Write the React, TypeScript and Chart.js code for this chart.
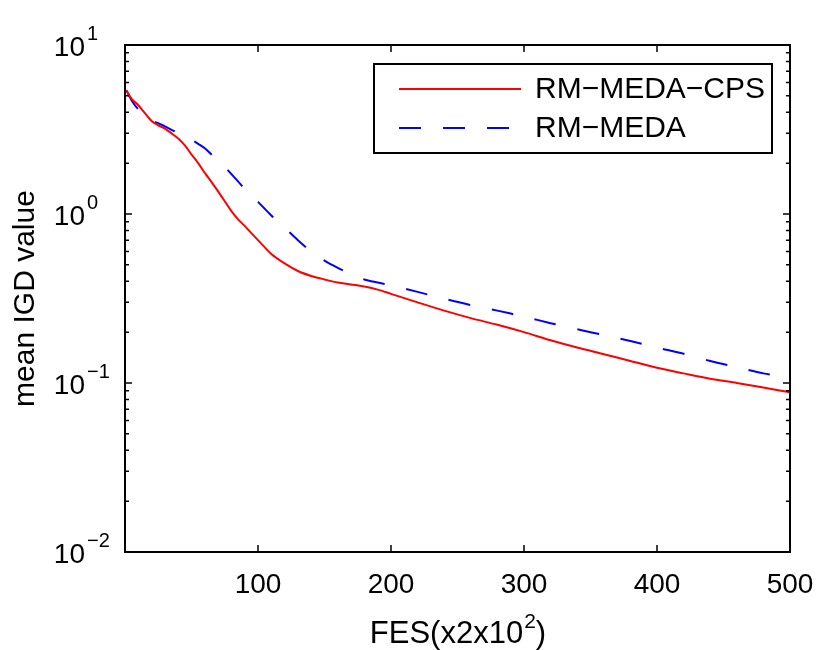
import React, { useEffect, useRef } from "react";
import { Chart, registerables } from "chart.js";

Chart.register(...registerables);

const FONT = '"Liberation Sans", Arial, Helvetica, sans-serif';

// FES (x2x10^2) sample positions
const fes = [
  1, 5, 10, 15, 20, 25, 30, 35, 40, 45, 50, 55, 60, 65, 70, 75, 80, 85, 90, 95,
  100, 110, 120, 130, 140, 150, 160, 170, 180, 190, 200, 220, 240, 260, 280,
  300, 320, 340, 360, 380, 400, 420, 440, 460, 480, 500,
];

const cpsValues = [
  5.4, 4.8, 4.4, 3.95, 3.55, 3.35, 3.2, 3.0, 2.8, 2.55, 2.25, 2.0, 1.75, 1.55,
  1.36, 1.19, 1.04, 0.93, 0.85, 0.77, 0.7, 0.58, 0.51, 0.46, 0.43, 0.41, 0.393,
  0.383, 0.372, 0.357, 0.337, 0.3, 0.268, 0.242, 0.221, 0.2, 0.179, 0.162,
  0.148, 0.135, 0.123, 0.114, 0.106, 0.1, 0.094, 0.088,
];

const medaValues = [
  5.4, 4.7, 4.15, 3.75, 3.55, 3.45, 3.3, 3.15, 3.0, 2.85, 2.75, 2.6, 2.45, 2.25,
  2.05, 1.9, 1.72, 1.56, 1.41, 1.29, 1.18, 0.98, 0.83, 0.7, 0.6, 0.53, 0.48,
  0.44, 0.41, 0.393, 0.378, 0.346, 0.315, 0.289, 0.268, 0.247, 0.226, 0.208,
  0.192, 0.177, 0.162, 0.149, 0.135, 0.124, 0.114, 0.107,
];

const seriesNames = ["RM\u2212MEDA\u2212CPS", "RM\u2212MEDA"];
const xTicks = [100, 200, 300, 400, 500];
const yExponents = [-2, -1, 0, 1];

const matlabAxes = {
  id: "matlabAxes",
  afterDraw(chart: any) {
    const { ctx, chartArea, scales } = chart;
    const { left, right, top, bottom } = chartArea;
    const xs = scales.x;
    const ys = scales.y;
    ctx.save();
    ctx.fillStyle = "#000";
    ctx.strokeStyle = "#000";

    // box
    ctx.lineWidth = 2;
    ctx.strokeRect(left, top, right - left, bottom - top);

    // x ticks (inward, bottom and top)
    ctx.lineWidth = 1.5;
    ctx.beginPath();
    xTicks.forEach((v) => {
      const px = xs.getPixelForValue(v);
      ctx.moveTo(px, bottom);
      ctx.lineTo(px, bottom - 7);
      ctx.moveTo(px, top);
      ctx.lineTo(px, top + 7);
    });
    // y ticks, major + minor
    yExponents.forEach((e) => {
      const py = ys.getPixelForValue(Math.pow(10, e));
      ctx.moveTo(left, py);
      ctx.lineTo(left + 7, py);
      ctx.moveTo(right, py);
      ctx.lineTo(right - 7, py);
      if (e < 1) {
        for (let m = 2; m <= 9; m++) {
          const pm = ys.getPixelForValue(m * Math.pow(10, e));
          ctx.moveTo(left, pm);
          ctx.lineTo(left + 4, pm);
          ctx.moveTo(right, pm);
          ctx.lineTo(right - 4, pm);
        }
      }
    });
    ctx.stroke();

    // x tick labels
    ctx.font = `28px ${FONT}`;
    ctx.textAlign = "center";
    ctx.textBaseline = "alphabetic";
    xTicks.forEach((v) => {
      ctx.fillText(String(v), xs.getPixelForValue(v), bottom + 41);
    });

    // y tick labels 10^e
    yExponents.forEach((e) => {
      const py = ys.getPixelForValue(Math.pow(10, e));
      ctx.font = `28px ${FONT}`;
      ctx.textAlign = "right";
      ctx.fillText("10", left - 40, py + 11);
      ctx.font = `20px ${FONT}`;
      ctx.textAlign = "left";
      ctx.fillText(e < 0 ? "\u2212" + -e : String(e), left - 38, py - 5);
    });

    // x title
    const cx = (left + right) / 2;
    ctx.font = `31px ${FONT}`;
    const t1 = "FES(x2x10";
    const w1 = ctx.measureText(t1).width;
    const w3 = ctx.measureText(")").width;
    ctx.font = `21px ${FONT}`;
    const w2 = ctx.measureText("2").width;
    let sx = cx - (w1 + w2 + w3) / 2;
    ctx.textAlign = "left";
    ctx.font = `31px ${FONT}`;
    ctx.fillText(t1, sx, bottom + 91);
    ctx.font = `21px ${FONT}`;
    ctx.fillText("2", sx + w1 + 1, bottom + 76);
    ctx.font = `31px ${FONT}`;
    ctx.fillText(")", sx + w1 + w2 + 1, bottom + 91);

    // y title
    ctx.save();
    ctx.translate(34, (top + bottom) / 2);
    ctx.rotate(-Math.PI / 2);
    ctx.textAlign = "center";
    ctx.font = `30px ${FONT}`;
    ctx.fillText("mean IGD value", 0, 0);
    ctx.restore();

    // legend box
    const lx = left + 249;
    const ly = top + 19;
    const lw = 398;
    const lh = 89;
    ctx.fillStyle = "#fff";
    ctx.fillRect(lx, ly, lw, lh);
    ctx.lineWidth = 2;
    ctx.strokeStyle = "#000";
    ctx.strokeRect(lx, ly, lw, lh);
    chart.data.datasets.forEach((ds: any, i: number) => {
      const rowY = ly + 25 + i * 39;
      ctx.strokeStyle = ds.borderColor;
      ctx.lineWidth = ds.borderWidth;
      ctx.setLineDash(ds.borderDash || []);
      ctx.beginPath();
      ctx.moveTo(lx + 25, rowY);
      ctx.lineTo(lx + 147, rowY);
      ctx.stroke();
      ctx.setLineDash([]);
      ctx.fillStyle = "#000";
      ctx.font = `30px ${FONT}`;
      ctx.textAlign = "left";
      ctx.textBaseline = "middle";
      ctx.fillText(ds.label, lx + 161, rowY + 1);
    });
    ctx.restore();
  },
};

export default function App() {
  const canvasRef = useRef<HTMLCanvasElement | null>(null);
  const chartRef = useRef<Chart | null>(null);

  useEffect(() => {
    const ctx = canvasRef.current?.getContext("2d");
    if (!ctx) return;
    if (chartRef.current) chartRef.current.destroy();

    chartRef.current = new Chart(ctx, {
      type: "line",
      data: {
        datasets: [
          {
            label: seriesNames[0],
            data: fes.map((x, i) => ({ x, y: cpsValues[i] })),
            borderColor: "#ff0000",
            borderWidth: 2,
            pointRadius: 0,
            tension: 0.3,
          },
          {
            label: seriesNames[1],
            data: fes.map((x, i) => ({ x, y: medaValues[i] })),
            borderColor: "#0000ff",
            borderWidth: 2,
            borderDash: [22, 22],
            pointRadius: 0,
            tension: 0.3,
          },
        ],
      },
      options: {
        animation: false,
        responsive: true,
        maintainAspectRatio: false,
        layout: { padding: { left: 125, top: 45, right: 40, bottom: 98 } },
        plugins: {
          legend: { display: false },
          tooltip: { enabled: false },
        },
        scales: {
          x: { type: "linear", min: 0, max: 500, display: false },
          y: { type: "logarithmic", min: 0.01, max: 10, display: false },
        },
      },
      plugins: [matlabAxes],
    });

    return () => {
      if (chartRef.current) {
        chartRef.current.destroy();
        chartRef.current = null;
      }
    };
  }, []);

  return (
    <div
      style={{
        position: "absolute",
        left: 0,
        top: 0,
        width: 830,
        height: 650,
        background: "#fff",
      }}
    >
      <canvas ref={canvasRef}></canvas>
    </div>
  );
}
